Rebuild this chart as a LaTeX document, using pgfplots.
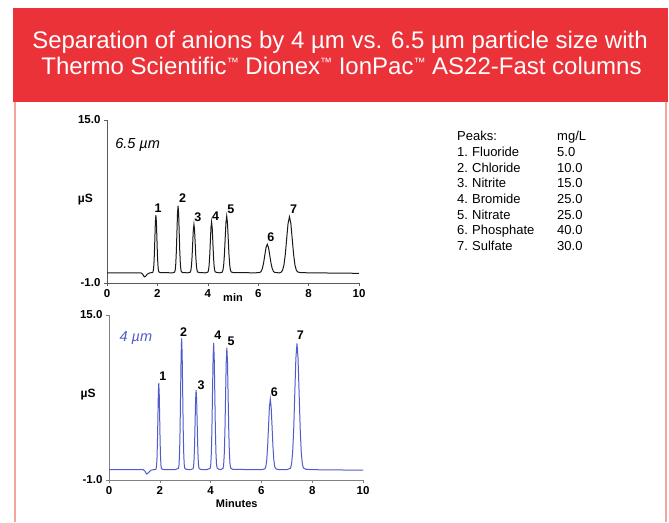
\documentclass[border=0pt]{standalone}
\usepackage{fontspec}
\setmainfont{Liberation Sans}
\usepackage{pgfplots}
\pgfplotsset{compat=1.18}
\definecolor{bannerred}{RGB}{236,50,57}
\definecolor{framepink}{RGB}{246,165,155}
\definecolor{traceblue}{RGB}{82,92,200}
\newcommand{\tm}{\raisebox{8.2pt}{\fontsize{12}{12}\selectfont ™}}
\begin{document}
\begin{tikzpicture}
\useasboundingbox (0,0) rectangle (669pt,522pt);
\fill[white] (0,0) rectangle (669pt,522pt);
\fill[bannerred] (13pt,420pt) rectangle (668pt,514pt);
\draw[framepink, line width=1.5pt] (15pt,0) -- (15pt,420pt);
\draw[framepink, line width=1.5pt] (666pt,0) -- (666pt,420pt);
\node[white, anchor=base, inner sep=0pt, font=\fontsize{24}{27}\selectfont] at (340pt,473.7pt)
  {Separation of anions by 4 µm vs. 6.5 µm particle size with};
\node[white, anchor=base, inner sep=0pt, font=\fontsize{24}{27}\selectfont] at (341.5pt,447pt)
  {Thermo Scientific\tm{} Dionex\tm{} IonPac\tm{} AS22-Fast columns};
% peaks table
\node[anchor=base west, inner sep=0pt, font=\fontsize{13}{14}\selectfont] at (457pt,381.3pt) {Peaks:};
\node[anchor=base west, inner sep=0pt, font=\fontsize{13}{14}\selectfont] at (557pt,381.3pt) {mg/L};
\foreach \a/\b/\c/\yy in {1./Fluoride/5.0/365.6, 2./Chloride/10.0/349.9, 3./Nitrite/15.0/334.2, 4./Bromide/25.0/318.5, 5./Nitrate/25.0/302.8, 6./Phosphate/40.0/287.1, 7./Sulfate/30.0/271.4}{
  \node[anchor=base west, inner sep=0pt, font=\fontsize{13}{14}\selectfont] at (457pt,\yy pt) {\a};
  \node[anchor=base west, inner sep=0pt, font=\fontsize{13}{14}\selectfont] at (472pt,\yy pt) {\b};
  \node[anchor=base west, inner sep=0pt, font=\fontsize{13}{14}\selectfont] at (557pt,\yy pt) {\c};
}
% top chart
\begin{axis}[
  at={(107pt,239pt)}, anchor=south west,
  scale only axis, width=252pt, height=163pt,
  xmin=0, xmax=10, ymin=-1, ymax=15,
  axis x line*=bottom, axis y line*=left,
  axis line style={-, line width=0.8pt, black!65},
  xtick={0,2,4,6,8,10}, ytick={-1,15}, yticklabels={-1.0,15.0},
  tick align=outside, major tick length=3pt,
  tick style={black!65, line width=0.6pt},
  ticklabel style={font=\bfseries\fontsize{11.5}{12}\selectfont},
  /pgf/number format/assume math mode=true,
  clip=false,
]
\addplot[black!90, line width=1pt] coordinates {
(0,0) (1.35,0) (1.42,-0.15) (1.48,-0.4) (1.53,-0.35) (1.6,-0.12) (1.7,0) (1.8,0.02)
(1.82,0.06) (1.84,0.25) (1.86,0.77) (1.88,1.84) (1.90,3.44) (1.92,5.0) (1.94,5.67) (1.96,5.0) (1.98,3.44) (2.00,1.84) (2.02,0.77) (2.04,0.25) (2.06,0.08) (2.12,0.02)
(2.6,0)
(2.685,0.07) (2.7075,0.29) (2.73,0.89) (2.7525,2.14) (2.775,3.99) (2.7975,5.81) (2.82,6.58) (2.8425,5.81) (2.865,3.99) (2.8875,2.14) (2.91,0.89) (2.9325,0.29) (2.955,0.09) (3.02,0.02)
(3.2,0)
(3.30,0.05) (3.325,0.21) (3.35,0.64) (3.375,1.54) (3.40,2.88) (3.425,4.19) (3.45,4.75) (3.475,4.19) (3.50,2.88) (3.525,1.54) (3.55,0.64) (3.575,0.21) (3.60,0.07) (3.68,0.02)
(3.9,0)
(4.00,0.06) (4.025,0.22) (4.05,0.68) (4.075,1.62) (4.10,3.03) (4.125,4.41) (4.15,5.0) (4.175,4.41) (4.20,3.03) (4.225,1.62) (4.25,0.68) (4.275,0.22) (4.30,0.08) (4.38,0.02)
(4.48,0)
(4.57,0.06) (4.60,0.24) (4.63,0.75) (4.66,1.81) (4.69,3.38) (4.72,4.92) (4.75,5.57) (4.78,4.92) (4.81,3.38) (4.84,1.81) (4.87,0.75) (4.90,0.24) (4.93,0.08) (5.02,0.02)
(5.9,0)
(6.06,0.03) (6.11,0.12) (6.16,0.38) (6.21,0.91) (6.26,1.70) (6.31,2.47) (6.36,2.8) (6.41,2.47) (6.46,1.70) (6.51,0.91) (6.56,0.38) (6.61,0.12) (6.66,0.04) (6.75,0.01)
(6.85,0)
(6.91,0.06) (6.965,0.24) (7.02,0.74) (7.075,1.79) (7.13,3.34) (7.185,4.85) (7.24,5.5) (7.295,4.85) (7.35,3.34) (7.405,1.79) (7.46,0.74) (7.515,0.24) (7.57,0.08) (7.68,0.02)
(8.0,0) (10,-0.05)
};
\begin{scope}[font=\bfseries\fontsize{12.5}{13}\selectfont]
\node at (axis cs:2.03,6.39) {1};
\node at (axis cs:3.0,7.34) {2};
\node at (axis cs:3.61,5.50) {3};
\node at (axis cs:4.31,5.6) {4};
\node at (axis cs:4.91,6.25) {5};
\node at (axis cs:6.5,3.54) {6};
\node at (axis cs:7.4,6.25) {7};
\end{scope}
\node[font=\bfseries\fontsize{12}{12}\selectfont] at (axis cs:-0.86,7.21) {µS};
\node[font=\bfseries\fontsize{11}{12}\selectfont] at (axis cs:5.0,-2.47) {min};
\node[anchor=west, inner sep=0pt, font=\itshape\fontsize{14.5}{15}\selectfont] at (axis cs:0.32,12.54) {6.5 µm};
\end{axis}
% bottom chart
\begin{axis}[
  at={(109pt,42pt)}, anchor=south west,
  scale only axis, width=254pt, height=165pt,
  xmin=0, xmax=10, ymin=-1, ymax=15,
  axis x line*=bottom, axis y line*=left,
  axis line style={-, line width=0.8pt, black!50},
  xtick={0,2,4,6,8,10}, ytick={-1,15}, yticklabels={-1.0,15.0},
  tick align=outside, major tick length=3pt,
  tick style={black!50, line width=0.6pt},
  ticklabel style={font=\bfseries\fontsize{11.5}{12}\selectfont},
  /pgf/number format/assume math mode=true,
  clip=false,
]
\addplot[traceblue, line width=1pt] coordinates {
(0,0) (1.35,0) (1.42,-0.15) (1.48,-0.42) (1.55,-0.3) (1.65,-0.06) (1.75,0) (1.84,0.03)
(1.855,0.09) (1.8725,0.37) (1.89,1.13) (1.9075,2.72) (1.925,5.08) (1.9425,7.40) (1.96,8.38) (1.9775,7.40) (1.995,5.08) (2.0125,2.72) (2.03,1.13) (2.0475,0.37) (2.065,0.11) (2.12,0.02)
(2.6,0)
(2.74,0.14) (2.76,0.56) (2.78,1.72) (2.80,4.14) (2.82,7.73) (2.84,11.24) (2.86,12.74) (2.88,11.24) (2.90,7.73) (2.92,4.14) (2.94,1.72) (2.96,0.56) (2.98,0.16) (3.04,0.03)
(3.2,0)
(3.31,0.09) (3.33,0.34) (3.35,1.05) (3.37,2.51) (3.39,4.69) (3.41,6.82) (3.43,7.73) (3.45,6.82) (3.47,4.69) (3.49,2.51) (3.51,1.05) (3.53,0.34) (3.55,0.11) (3.62,0.02)
(3.85,0)
(3.985,0.14) (4.0075,0.54) (4.03,1.66) (4.0525,3.99) (4.075,7.46) (4.0975,10.85) (4.12,12.3) (4.1425,10.85) (4.165,7.46) (4.1875,3.99) (4.21,1.66) (4.2325,0.54) (4.255,0.17) (4.33,0.03)
(4.4,0.01)
(4.49,0.13) (4.515,0.52) (4.54,1.60) (4.565,3.84) (4.59,7.17) (4.615,10.44) (4.64,11.83) (4.665,10.44) (4.69,7.17) (4.715,3.84) (4.74,1.60) (4.765,0.52) (4.79,0.16) (4.87,0.03)
(6.0,0)
(6.14,0.08) (6.175,0.30) (6.21,0.93) (6.245,2.23) (6.28,4.16) (6.315,6.05) (6.35,6.86) (6.385,6.05) (6.42,4.16) (6.455,2.23) (6.49,0.93) (6.525,0.30) (6.56,0.10) (6.64,0.02)
(7.0,0)
(7.145,0.14) (7.1875,0.54) (7.23,1.66) (7.2725,3.98) (7.315,7.43) (7.3575,10.81) (7.40,12.25) (7.4425,10.81) (7.485,7.43) (7.5275,3.98) (7.57,1.66) (7.6125,0.54) (7.655,0.17) (7.75,0.04)
(8.0,0) (10,-0.05)
};
\begin{scope}[font=\bfseries\fontsize{12.5}{13}\selectfont]
\node at (axis cs:2.12,9.02) {1};
\node at (axis cs:2.94,13.38) {2};
\node at (axis cs:3.63,8.21) {3};
\node at (axis cs:4.29,13.06) {4};
\node at (axis cs:4.81,12.5) {5};
\node at (axis cs:6.51,7.56) {6};
\node at (axis cs:7.53,13.0) {7};
\end{scope}
\node[font=\bfseries\fontsize{12}{12}\selectfont] at (axis cs:-0.82,7.24) {µS};
\node[font=\bfseries\fontsize{11}{12}\selectfont] at (axis cs:5.03,-3.26) {Minutes};
\node[anchor=west, inner sep=0pt, text=traceblue, font=\itshape\fontsize{14.5}{15}\selectfont] at (axis cs:0.41,12.8) {4 µm};
\end{axis}
\end{tikzpicture}
\end{document}
